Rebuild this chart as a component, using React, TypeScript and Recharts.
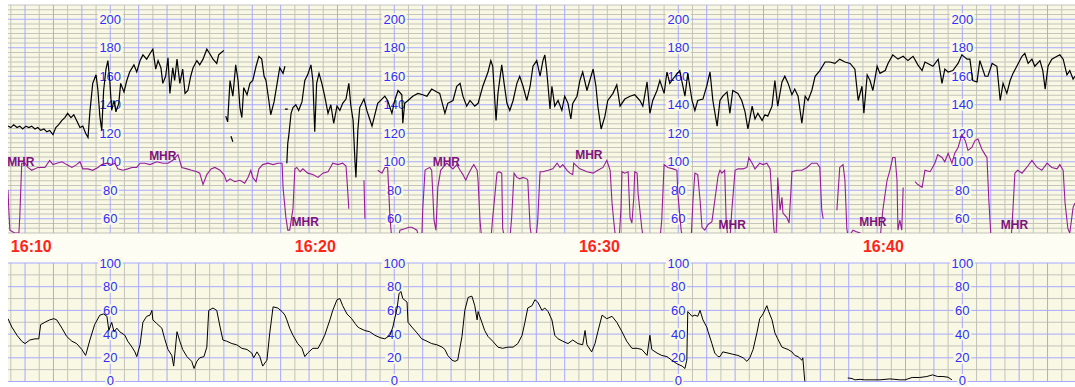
import React from 'react';
import {
  ComposedChart,
  Line,
  XAxis,
  YAxis,
  CartesianGrid,
  ReferenceLine,
  ReferenceDot
} from 'recharts';

// x is seconds after 16:10, y is bpm (top strip) or toco units (bottom strip)
type Pt = [number, number | null];

const fhrTrace: Pt[] = [
  [-6,125],[0,124],[6,126],[13,124],[19,125],[25,123],[32,125],[38,124],[44,125],[51,123],[57,124],[63,122],[70,123],[76,121],[82,122],[89,119],[95,124],[101,126],[108,129],[114,131],[120,134],[127,131],[133,133],[139,129],[146,124],[152,125],[158,120],[163,117],[167,135],[173,155],[180,161],[184,150],[188,132],[192,122],[196,150],[201,165],[205,171],[209,157],[213,136],[218,143],[222,135],[228,141],[232,155],[239,149],[245,157],[251,163],[260,168],[266,163],[273,171],[279,175],[287,172],[294,176],[300,179],[306,165],[311,171],[317,166],[321,155],[327,160],[332,173],[336,148],[342,166],[346,157],[351,172],[357,155],[363,165],[368,148],[374,150],[380,160],[385,166],[393,171],[399,168],[406,172],[414,179],[420,176],[427,172],[435,169],[439,175],[446,177],[450,178],[452,null],
  [454,132],[458,128],[463,157],[469,146],[475,168],[480,157],[484,138],[488,131],[492,152],[499,147],[505,155],[511,157],[518,167],[524,174],[530,172],[535,160],[539,157],[545,143],[549,133],[556,142],[562,154],[568,166],[575,162],[579,167],[581,null],
  [583,99],[585,113],[587,118],[592,134],[596,138],[602,140],[608,136],[615,142],[621,157],[627,161],[634,168],[638,157],[642,121],[646,155],[651,162],[657,155],[663,146],[670,134],[676,140],[682,127],[689,139],[695,136],[701,141],[708,144],[714,155],[718,140],[723,129],[727,100],[729,89],[733,122],[737,138],[746,144],[752,136],[758,130],[763,125],[769,133],[775,141],[784,144],[790,146],[796,143],[805,134],[811,143],[818,150],[826,147],[828,127],[832,141],[839,143],[849,146],[860,148],[870,147],[879,146],[889,151],[900,149],[906,148],[917,134],[923,141],[934,143],[942,153],[949,155],[955,146],[963,139],[970,143],[980,139],[987,141],[997,153],[1008,163],[1014,171],[1018,167],[1025,129],[1029,148],[1037,168],[1042,155],[1048,141],[1054,136],[1061,143],[1069,155],[1075,160],[1082,153],[1090,143],[1097,153],[1103,167],[1111,171],[1118,160],[1124,171],[1128,175],[1132,164],[1139,137],[1143,153],[1149,139],[1156,143],[1164,136],[1170,146],[1177,141],[1183,130],[1187,141],[1196,146],[1202,157],[1208,163],[1217,150],[1223,157],[1230,165],[1236,153],[1240,139],[1247,123],[1255,132],[1261,143],[1272,148],[1280,154],[1287,139],[1297,144],[1308,146],[1318,147],[1329,143],[1335,139],[1344,156],[1350,134],[1356,143],[1365,150],[1371,157],[1380,148],[1386,163],[1392,155],[1403,160],[1413,164],[1424,146],[1430,162],[1439,143],[1445,136],[1451,143],[1462,144],[1470,153],[1477,163],[1483,143],[1492,125],[1498,143],[1504,146],[1513,149],[1519,134],[1525,150],[1536,148],[1544,143],[1551,135],[1557,123],[1566,139],[1572,130],[1578,134],[1587,129],[1593,133],[1599,132],[1608,139],[1614,157],[1620,139],[1629,156],[1635,160],[1642,155],[1650,147],[1656,151],[1663,146],[1671,127],[1678,146],[1684,143],[1692,150],[1699,160],[1709,164],[1720,170],[1730,170],[1741,169],[1751,172],[1762,170],[1773,169],[1783,165],[1790,143],[1798,153],[1802,134],[1809,161],[1815,157],[1821,150],[1830,167],[1836,162],[1847,164],[1853,169],[1863,175],[1874,172],[1885,174],[1895,171],[1906,174],[1916,168],[1925,164],[1931,170],[1937,169],[1948,167],[1959,172],[1967,155],[1973,165],[1980,163],[1990,164],[2001,169],[2009,175],[2020,172],[2026,172],[2032,157],[2041,156],[2047,171],[2058,160],[2064,160],[2073,169],[2083,167],[2090,143],[2096,155],[2104,148],[2111,157],[2117,162],[2125,167],[2136,174],[2142,176],[2149,169],[2157,172],[2163,167],[2174,171],[2180,164],[2185,151],[2191,167],[2199,172],[2210,174],[2216,175],[2223,172],[2231,161],[2237,164],[2244,158],[2248,160]
];

// short stray pieces of the FHR signal
const fhrBits: Pt[] = [[465,118],[469,114],[471,null],[579,137],[585,137]];

const mhrTrace: Pt[] = [
  [-6,80],[-4,64],[-2,52],[8,50],[17,50],[19,62],[23,99],[30,99],[36,96],[44,94],[51,95],[57,96],[65,96],[72,96],[82,101],[89,98],[97,99],[108,100],[118,98],[129,96],[139,98],[146,100],[152,95],[163,95],[173,94],[184,96],[192,98],[203,99],[213,98],[220,99],[226,95],[237,94],[247,95],[256,96],[266,96],[273,99],[283,99],[294,98],[308,100],[321,99],[332,99],[342,101],[353,105],[361,96],[372,95],[382,94],[393,93],[399,92],[406,84],[414,91],[423,95],[431,96],[442,94],[450,91],[456,86],[463,88],[473,86],[484,87],[494,85],[501,89],[507,94],[511,89],[518,86],[524,95],[532,98],[543,99],[554,98],[564,99],[573,99],[575,82],[581,61],[585,52],[589,52],[596,67],[600,95],[604,96],[611,93],[617,95],[627,92],[638,91],[649,89],[659,92],[670,93],[680,99],[691,98],[701,99],[708,97],[710,88],[714,67],[716,null],
  [746,87],[748,60],[750,null],
  [775,94],[784,92],[790,96],[796,96],[801,60],[805,45],[818,45],[822,52],[832,53],[841,54],[847,54],[858,52],[862,45],[868,45],[870,66],[875,94],[879,95],[885,96],[889,94],[894,59],[898,52],[902,82],[908,94],[913,96],[921,99],[927,97],[934,95],[942,98],[949,94],[955,91],[961,87],[966,91],[974,96],[978,98],[985,94],[987,87],[991,59],[995,45],[1014,45],[1018,61],[1027,92],[1031,93],[1037,92],[1039,53],[1044,45],[1054,45],[1058,61],[1063,92],[1069,89],[1075,88],[1082,89],[1090,88],[1092,87],[1097,54],[1101,45],[1109,45],[1113,59],[1118,93],[1124,93],[1135,94],[1145,95],[1154,99],[1160,96],[1166,98],[1175,94],[1181,92],[1187,91],[1189,99],[1202,95],[1217,93],[1230,92],[1240,94],[1251,96],[1259,101],[1266,94],[1270,71],[1274,57],[1278,45],[1285,45],[1289,68],[1291,93],[1297,92],[1304,93],[1308,61],[1312,57],[1316,75],[1318,93],[1323,92],[1325,78],[1333,53],[1337,45],[1371,45],[1375,59],[1380,98],[1388,96],[1399,95],[1407,94],[1409,78],[1416,52],[1420,45],[1437,45],[1441,73],[1445,92],[1451,91],[1456,73],[1460,54],[1466,52],[1473,56],[1481,58],[1494,90],[1498,94],[1502,92],[1508,94],[1511,60],[1515,45],[1519,45],[1523,66],[1530,94],[1536,95],[1547,95],[1555,96],[1559,103],[1566,99],[1572,95],[1582,99],[1589,98],[1597,99],[1604,95],[1608,73],[1612,52],[1616,45],[1618,60],[1620,89],[1625,66],[1629,75],[1631,64],[1639,61],[1644,57],[1648,80],[1650,93],[1661,94],[1671,94],[1682,96],[1692,99],[1703,99],[1709,96],[1713,66],[1716,60],[1720,null],
  [1745,66],[1751,96],[1758,98],[1762,87],[1766,53],[1770,45],[1775,50],[1779,52],[1785,51],[1794,50],[1798,45],[1836,45],[1842,66],[1851,87],[1857,94],[1863,103],[1868,103],[1872,87],[1874,52],[1878,59],[1882,52],[1885,82],[1888,null],
  [1910,86],[1916,84],[1925,82],[1931,94],[1942,93],[1952,99],[1958,105],[1967,103],[1973,100],[1980,106],[1988,99],[1994,106],[2001,110],[2009,119],[2016,115],[2022,108],[2030,110],[2037,115],[2043,116],[2051,109],[2058,105],[2062,103],[2066,73],[2070,50],[2075,45],[2113,45],[2117,67],[2121,92],[2127,94],[2136,92],[2146,96],[2157,101],[2168,96],[2178,94],[2189,99],[2199,96],[2210,95],[2216,98],[2223,94],[2227,71],[2233,53],[2237,50],[2244,68],[2248,71]
];

const ucTrace: Pt[] = [
  [-6,53],[2,46],[13,39],[23,34],[30,32],[40,35],[51,36],[59,36],[63,48],[72,50],[82,52],[91,53],[97,52],[108,45],[118,38],[129,34],[139,32],[150,27],[158,22],[167,35],[177,48],[188,56],[196,57],[203,55],[207,43],[213,50],[218,42],[224,45],[230,42],[241,39],[247,34],[256,29],[262,25],[266,21],[273,31],[279,50],[287,55],[294,56],[298,60],[300,52],[308,49],[319,45],[325,36],[332,27],[340,22],[344,13],[351,42],[357,34],[363,27],[372,21],[382,17],[387,11],[393,17],[399,20],[408,21],[414,29],[418,60],[427,62],[435,60],[442,46],[448,35],[456,34],[467,32],[477,31],[488,28],[499,27],[509,24],[513,20],[520,25],[526,21],[532,13],[541,18],[547,41],[554,63],[564,62],[573,59],[579,56],[583,52],[589,45],[596,39],[606,32],[615,28],[621,21],[627,24],[638,28],[649,28],[657,34],[663,39],[674,52],[680,60],[689,69],[695,70],[701,64],[710,57],[720,53],[727,49],[733,46],
  [737,45],[748,43],[758,42],[769,39],[780,37],[790,36],[801,39],[807,46],[816,62],[820,74],[824,76],[828,70],[837,67],[839,50],[847,46],[858,41],[868,36],[879,34],[889,32],[900,31],[911,29],[917,27],[923,22],[932,18],[938,17],[944,18],[953,38],[959,60],[966,71],[974,72],[980,64],[985,52],[987,59],[995,50],[1001,43],[1008,38],[1018,34],[1029,29],[1039,28],[1050,29],[1061,29],[1071,32],[1080,39],[1086,50],[1092,62],[1101,64],[1107,69],[1113,67],[1122,60],[1128,62],[1135,59],[1143,52],[1149,39],[1156,36],[1166,34],[1177,32],[1187,35],[1198,32],[1208,31],[1213,43],[1217,31],[1227,25],[1234,32],[1240,42],[1249,56],[1259,53],[1270,55],[1280,50],[1291,42],[1301,34],[1312,28],[1323,28],[1333,27],[1344,22],[1350,39],[1354,27],[1365,24],[1375,22],[1386,21],[1396,18],[1407,15],[1418,13],[1424,11],[1428,18],[1430,59],[1439,55],[1445,56],[1451,55],[1456,60],[1462,52],[1470,46],[1473,42],[1481,32],[1487,24],[1494,21],
  [1498,21],[1504,25],[1515,24],[1525,23],[1536,22],[1547,20],[1555,17],[1561,20],[1568,27],[1576,41],[1582,53],[1589,57],[1597,64],[1601,59],[1608,52],[1614,41],[1620,36],[1629,29],[1635,28],[1642,27],[1650,25],[1656,22],[1663,21],[1671,18],[1673,20],[1677,1],[1680,-5],[1682,null],
  [1768,3],[1777,2.5],[1783,1.4],[1794,1.8],[1804,1.4],[1815,1.4],[1836,1.4],[1857,2.2],[1878,1.4],[1889,1.4],[1904,3.4],[1920,3.4],[1935,4.2],[1947,5.6],[1958,4.2],[1969,4.2],[1980,3.6],[1988,1.4]
];

const timeLabels = ['16:10', '16:20', '16:30', '16:40'];
const timeTicks = [0, 600, 1200, 1800];
const scaleColumns = [210, 810, 1410, 2010];
const hrScale = [200, 180, 160, 140, 120, 100, 80, 60];
const ucScale = [100, 80, 60, 40, 20, 0];
// "MHR" tags along the maternal trace: [seconds, bpm]
const mhrTags: [number, number][] = [
  [21, 100], [321, 104], [622, 58], [920, 100], [1221, 105], [1524, 56], [1821, 58], [2120, 56]
];

const X_DOMAIN: [number, number] = [-6, 2248];
const PANEL = '#f8f8e4';
const BAND = '#fdfdf3';
const GRID_GRAY = '#c4c4bc';
const GRID_BLUE = '#a8a8ff';
const SCALE_BLUE = '#2f2fff';
const FONT = 'Arial, "Liberation Sans", sans-serif';

const toRows = (pts: Pt[]) => pts.map(([t, v]) => ({ t, v }));

const minuteLines: number[] = [];
for (let s = 0; s <= 2240; s += 60) minuteLines.push(s);
const halfLines: number[] = [];
for (let s = 30; s <= 2240; s += 60) halfLines.push(s);

const hrGrid: { v: number; major: boolean }[] = [];
for (let k = 0; k <= 48; k++) {
  const v = 50 + (k * 10) / 3;
  hrGrid.push({ v, major: k % 6 === 3 });
}
const ucGrid: { v: number; major: boolean }[] = [];
for (let v = 0; v <= 100; v += 10) ucGrid.push({ v, major: v % 20 === 0 });

// scale number sitting on a small patch of paper colour so the grid breaks around it
const ScaleTag = ({ cx, cy, text, lift = 0 }: { cx: number; cy: number; text: string; lift?: number }) => {
  const w = text.length * 7.3 + 3;
  const y = cy - lift;
  return (
    <g>
      <rect x={cx - w / 2} y={y - 6} width={w} height={12} fill={PANEL} />
      <text x={cx} y={y} dy="0.36em" textAnchor="middle" fontFamily={FONT} fontSize={13} fill={SCALE_BLUE}>
        {text}
      </text>
    </g>
  );
};

const verticalGrid = () => [
  ...minuteLines.map(s => (
    <ReferenceLine key={'m' + s} x={s} stroke={GRID_GRAY} strokeWidth={1} zIndex={-50} />
  )),
  ...halfLines.map(s => (
    <ReferenceLine key={'h' + s} x={s} stroke={GRID_BLUE} strokeWidth={1} zIndex={-40} />
  ))
];

const App = () => {
  return (
    <div style={{ position: 'absolute', left: 0, top: 0, width: 1075, height: 387, background: '#fff', overflow: 'hidden' }}>
      <div style={{ position: 'absolute', left: 8, top: 233, width: 1067, height: 30, background: BAND }} />

      {/* heart rate strip: FHR + MHR */}
      <div style={{ position: 'absolute', left: 8, top: 0 }}>
        <ComposedChart width={1067} height={256} margin={{ top: 5, right: 0, bottom: 23, left: 0 }}>
          <CartesianGrid fill={PANEL} horizontal={false} vertical={false} stroke="none" />
          <XAxis type="number" dataKey="t" domain={X_DOMAIN} allowDataOverflow hide />
          <YAxis type="number" domain={[50, 210]} allowDataOverflow hide />
          {hrGrid.filter(g => !g.major).map(g => (
            <ReferenceLine key={'hg' + g.v} y={g.v} stroke={GRID_GRAY} strokeWidth={1} zIndex={-60} />
          ))}
          {verticalGrid()}
          {hrGrid.filter(g => g.major).map(g => (
            <ReferenceLine key={'hb' + g.v} y={g.v} stroke={GRID_BLUE} strokeWidth={1} zIndex={-30} />
          ))}
          {scaleColumns.flatMap(c =>
            hrScale.map(v => (
              <ReferenceDot
                key={`hs${c}-${v}`}
                x={c}
                y={v}
                r={0}
                zIndex={300}
                shape={(p: any) => <ScaleTag cx={p.cx} cy={p.cy} text={String(v)} />}
              />
            ))
          )}
          {timeTicks.map((s, i) => (
            <ReferenceDot
              key={'tl' + s}
              x={s}
              y={50}
              r={0}
              zIndex={300}
              shape={(p: any) => (
                <text x={p.cx} y={p.cy + 18.5} fontFamily={FONT} fontSize={16} fontWeight="bold" fill="#ff2418">
                  {timeLabels[i]}
                </text>
              )}
            />
          ))}
          <Line data={toRows(mhrTrace)} dataKey="v" stroke="#981c98" strokeWidth={1.1} dot={false} activeDot={false} isAnimationActive={false} />
          <Line data={toRows(fhrTrace)} dataKey="v" stroke="#000" strokeWidth={1.2} dot={false} activeDot={false} isAnimationActive={false} />
          <Line data={toRows(fhrBits)} dataKey="v" stroke="#000" strokeWidth={1.2} dot={false} activeDot={false} isAnimationActive={false} />
          {mhrTags.map(([s, v]) => (
            <ReferenceDot
              key={'mt' + s}
              x={s}
              y={v}
              r={0}
              zIndex={600}
              shape={(p: any) => (
                <text x={p.cx} y={p.cy} dy="0.36em" textAnchor="middle" fontFamily={FONT} fontSize={12} fontWeight="bold" fill="#7e127e">
                  MHR
                </text>
              )}
            />
          ))}
        </ComposedChart>
      </div>

      {/* uterine contraction strip */}
      <div style={{ position: 'absolute', left: 8, top: 256 }}>
        <ComposedChart width={1067} height={131} margin={{ top: 7, right: 0, bottom: 5.5, left: 0 }}>
          <CartesianGrid fill={PANEL} horizontal={false} vertical={false} stroke="none" />
          <XAxis type="number" dataKey="t" domain={X_DOMAIN} allowDataOverflow hide />
          <YAxis type="number" domain={[0, 100]} allowDataOverflow hide />
          {ucGrid.filter(g => !g.major).map(g => (
            <ReferenceLine key={'ug' + g.v} y={g.v} stroke={GRID_GRAY} strokeWidth={1} zIndex={-60} />
          ))}
          {verticalGrid()}
          {ucGrid.filter(g => g.major).map(g => (
            <ReferenceLine key={'ub' + g.v} y={g.v} stroke={GRID_BLUE} strokeWidth={1} zIndex={-30} />
          ))}
          {scaleColumns.flatMap(c =>
            ucScale.map(v => (
              <ReferenceDot
                key={`us${c}-${v}`}
                x={c}
                y={v}
                r={0}
                zIndex={300}
                shape={(p: any) => <ScaleTag cx={p.cx} cy={p.cy} text={String(v)} lift={v === 0 ? 1.5 : 0} />}
              />
            ))
          )}
          <Line data={toRows(ucTrace)} dataKey="v" stroke="#000" strokeWidth={1} dot={false} activeDot={false} isAnimationActive={false} />
        </ComposedChart>
      </div>
    </div>
  );
};

export default App;
